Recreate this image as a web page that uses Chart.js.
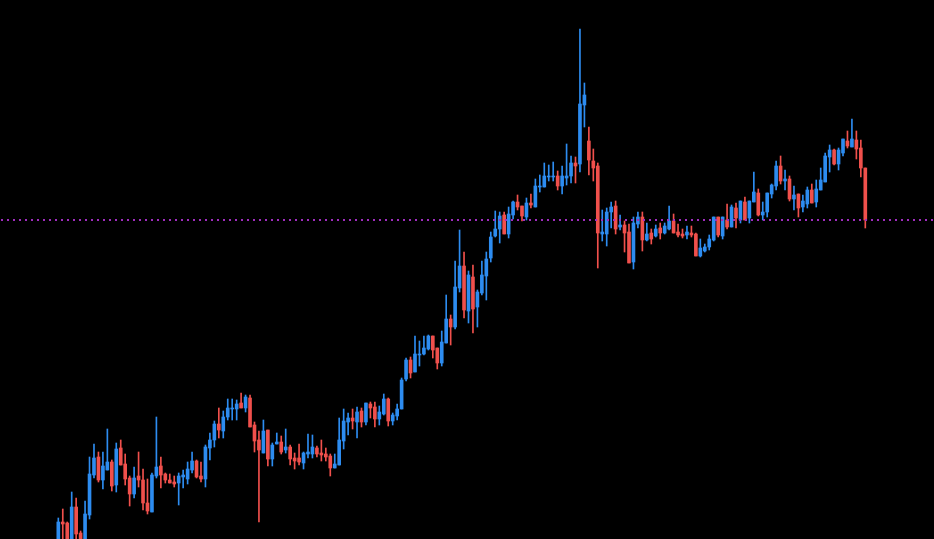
<!DOCTYPE html>
<html lang="en">
<head>
  <meta charset="UTF-8" />
  <title>Candles</title>
  <script src="https://cdn.jsdelivr.net/npm/chart.js"></script>
  <style>
    html, body { margin: 0; padding: 0; background: #000; overflow: hidden; }
    #chart { display: block; }
  </style>
</head>
<body>
  <canvas id="chart" width="934" height="539"></canvas>

  <script>
    // OHLC per candle, oldest first
    const opens = [
      55,78,77,55,93,67,55,85,125,143,
      120,130,138,115,152,136,122,106,124,120,
      97,88,124,134,126,120,118,117,123,121,
      130,139,124,121,152,160,176,169,183,191,
      191,197,192,202,175,160,147,170,141,156,
      158,150,153,142,142,137,146,146,152,147,
      146,144,132,135,159,178,182,178,189,178,
      196,193,181,186,201,179,184,191,221,240,
      228,245,246,251,264,252,237,257,281,273,
      312,334,289,323,293,307,324,342,364,371,
      385,366,385,398,394,383,397,393,413,413,
      423,423,424,414,422,424,437,436,495,459,
      439,434,366,366,388,394,373,375,368,338,
      376,383,360,367,364,372,367,371,379,368,
      366,365,367,366,344,349,353,360,383,364,
      380,373,392,380,398,382,398,407,385,388,
      406,414,434,419,421,401,406,393,396,410,
      398,410,418,443,450,436,447,459,453,460,
      452,432
    ];
    const highs = [
      82,91,78,108,102,69,99,143,156,148,
      148,171,140,157,160,146,124,133,148,131,
      121,127,183,143,127,126,124,127,130,138,
      148,140,138,155,167,179,192,189,201,201,
      200,207,205,205,178,169,180,170,157,167,
      164,171,155,147,156,148,166,165,154,160,
      152,146,146,182,191,187,191,193,192,197,
      198,198,194,206,202,187,196,222,242,243,
      264,259,264,265,264,252,269,305,285,339,
      370,348,329,335,310,339,348,368,389,388,
      388,393,399,405,394,402,406,421,425,437,
      435,438,429,434,456,444,443,571,517,473,
      451,437,390,392,398,399,385,379,376,383,
      388,388,377,371,375,377,377,394,386,376,
      371,374,374,367,361,356,365,383,383,383,
      396,395,397,399,403,399,428,411,398,407,
      416,439,444,430,424,414,406,405,413,416,
      420,432,447,455,451,452,461,469,481,469,
      460,432
    ];
    const lows = [
      50,55,50,50,55,53,52,81,122,118,
      111,130,109,108,135,115,94,102,113,90,
      86,88,122,112,117,117,113,95,112,116,
      127,122,118,113,140,153,162,162,180,180,
      180,192,188,173,148,78,147,134,134,156,
      146,147,135,131,135,131,142,142,143,139,
      139,124,132,135,151,165,171,162,173,175,
      182,173,175,185,174,175,180,191,219,222,
      228,234,245,250,242,231,234,257,255,271,
      308,282,277,267,273,305,300,338,363,357,
      366,362,381,390,379,380,392,393,408,413,
      419,419,410,406,415,417,417,428,473,425,
      419,332,359,354,372,366,370,348,337,331,
      372,349,359,356,363,361,366,370,367,363,
      362,361,363,344,343,348,350,359,363,361,
      371,373,372,377,380,377,398,384,380,383,
      402,410,416,410,399,390,383,388,392,397,
      393,410,418,428,435,430,444,452,453,441,
      423,372
    ];
    const closes = [
      78,76,55,93,66,55,86,126,142,120,
      134,138,114,151,135,121,106,122,120,97,
      89,125,133,125,120,117,116,124,125,131,
      139,123,121,153,160,176,170,183,192,192,
      196,192,203,173,159,150,169,141,155,158,
      148,153,141,139,138,147,148,153,146,145,
      143,132,136,160,179,182,179,188,178,197,
      192,181,188,201,179,185,191,220,240,227,
      246,246,252,264,250,237,258,281,273,313,
      334,290,325,291,308,325,341,363,371,384,
      366,386,398,393,384,397,395,414,414,424,
      424,424,414,424,424,437,434,496,505,440,
      432,367,368,388,393,371,375,367,337,377,
      383,360,366,361,371,367,374,379,367,365,
      364,368,365,344,352,353,361,383,365,383,
      373,393,382,399,380,399,408,385,388,407,
      415,434,419,421,401,405,392,399,410,397,
      411,420,444,450,436,450,461,454,461,451,
      432,380
    ];
    const lastPrice = 380;

    const upColor = '#2d8cf0';
    const downColor = '#f0504c';
    const lineColor = '#a02cc0';

    const xMin = -13.08, xMax = 196.41;

    const idx = opens.map((_, i) => i);
    const colors = idx.map(i => closes[i] >= opens[i] ? upColor : downColor);
    const wicks = idx.map(i => ({ x: i, y: [lows[i], highs[i]] }));
    const bodies = idx.map(i => ({ x: i, y: [opens[i], closes[i]] }));

    const ctx = document.getElementById('chart').getContext('2d');
    new Chart(ctx, {
      type: 'bar',
      data: {
        datasets: [
          {
            // current price line, drawn over the candles
            type: 'line',
            data: [{ x: xMin, y: lastPrice }, { x: xMax, y: lastPrice }],
            borderColor: lineColor,
            borderWidth: 2,
            borderDash: [2, 4],
            borderDashOffset: -1,
            pointRadius: 0,
            order: 0
          },
          {
            data: wicks,
            backgroundColor: colors,
            barThickness: 1,
            grouped: false,
            order: 2
          },
          {
            data: bodies,
            backgroundColor: colors,
            barThickness: 3,
            minBarLength: 1,
            grouped: false,
            order: 1
          }
        ]
      },
      options: {
        responsive: false,
        animation: false,
        layout: { padding: 0 },
        scales: {
          x: { type: 'linear', min: xMin, max: xMax, offset: false, display: false },
          y: { min: 61, max: 600, grace: 0, display: false }
        },
        plugins: {
          legend: { display: false },
          tooltip: { enabled: false }
        }
      }
    });
  </script>
</body>
</html>
